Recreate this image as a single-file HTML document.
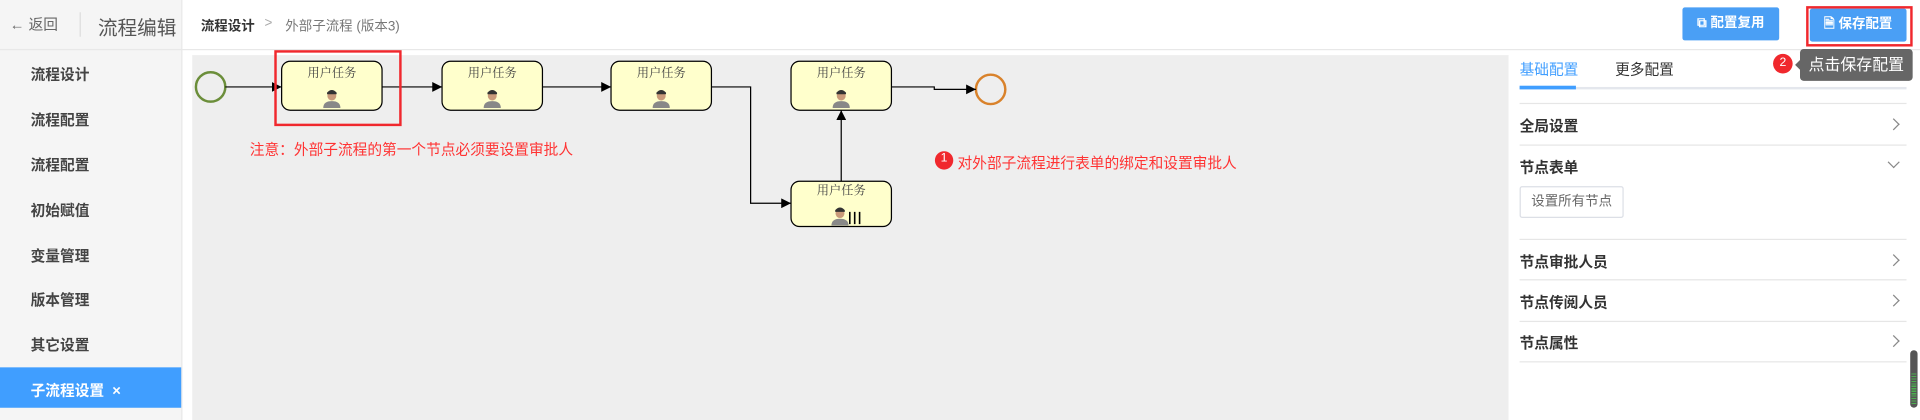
<!DOCTYPE html>
<html><head><meta charset="utf-8"><style>
html,body{margin:0;padding:0;width:1920px;height:420px;overflow:hidden;background:#fff}
#w{position:absolute;left:0;top:0;width:1568px;height:343px;transform:scale(1.22449);transform-origin:0 0;font-family:"Liberation Sans","Noto Sans CJK SC",sans-serif;color:#333}
.a{position:absolute;white-space:nowrap}
.side{position:absolute;left:0;top:0;width:148px;height:343px;background:#f5f5f5;border-right:1px solid #e8e8e8}
.mi{position:absolute;left:25px;font-size:12px;font-weight:bold;color:#444}
.btn{position:absolute;height:27px;background:#4a9ff5;color:#fff;font-size:11px;font-weight:bold;border-radius:2px;text-align:center;line-height:27px}
.row{position:absolute;left:1241px;width:316px;font-size:12px;font-weight:bold;color:#333}
.ln{position:absolute;left:1241px;width:316px;height:1px;background:#e6e6e6}
.chev{position:absolute;left:1543px;width:6px;height:6px;border-right:1px solid #888;border-top:1px solid #888;transform:rotate(45deg)}
</style></head><body><div id="w">
<div class="side"></div>
<div class="a" style="left:0;top:40px;width:1568px;height:1px;background:#e8e8e8"></div>
<div class="a" style="left:149px;top:0;width:1419px;height:40px;background:#fff"></div>
<div class="a" style="left:8px;top:11px;font-size:12px;color:#666">← 返回</div>
<div class="a" style="left:65px;top:10px;width:1px;height:20px;background:#ddd"></div>
<div class="a" style="left:80px;top:9px;font-size:16px;color:#555">流程编辑</div>
<div class="a" style="left:164px;top:13px;font-size:11px;font-weight:bold;color:#333">流程设计</div>
<div class="a" style="left:216px;top:13px;font-size:11px;color:#aaa">&gt;</div>
<div class="a" style="left:233px;top:13px;font-size:11px;color:#777">外部子流程 (版本3)</div>
<div class="btn" style="left:1374px;top:6px;width:79px">⧉ 配置复用</div>
<div class="btn" style="left:1478px;top:7px;width:79px">🗎 保存配置</div>
<div class="a" style="left:1475px;top:5px;width:83px;height:29px;border:2px solid #f0282d"></div>
<div class="a" style="left:1448px;top:44px;width:16px;height:16px;border-radius:50%;background:#f0282d;color:#fff;font-size:10px;text-align:center;line-height:16px">2</div>
<div class="a" style="left:1470px;top:40px;width:92px;height:26px;background:#666;border-radius:3px;color:#fff;font-size:13px;line-height:26px;text-align:center">点击保存配置</div>
<div class="a" style="left:1466px;top:49px;width:0;height:0;border:4px solid transparent;border-right-color:#666;border-left:0"></div>
<div class="mi" style="top:52px">流程设计</div>
<div class="mi" style="top:89px">流程配置</div>
<div class="mi" style="top:126px">流程配置</div>
<div class="mi" style="top:163px">初始赋值</div>
<div class="mi" style="top:200px">变量管理</div>
<div class="mi" style="top:236px">版本管理</div>
<div class="mi" style="top:273px">其它设置</div>
<div class="a" style="left:0;top:300px;width:148px;height:33px;background:#409eff"></div>
<div class="mi" style="top:310px;color:#fff">子流程设置 &nbsp;×</div>
<div class="a" style="left:157px;top:45px;width:1075px;height:298px;background:#eeeeee"></div>
<svg class="a" style="left:0;top:0" width="1568" height="343" font-family="Liberation Serif,Noto Serif CJK SC,serif">
<defs><marker id="ar" markerWidth="8" markerHeight="8" refX="8" refY="4" orient="auto" markerUnits="userSpaceOnUse"><path d="M0,0L8,4L0,8z" fill="#000"/></marker>
<g id="p" transform="scale(1.4)"><circle cx="0" cy="-4" r="2.6" fill="#c99a7a"/><path d="M-2.8,-6 Q0,-9 2.8,-6 L2.8,-5 L-2.8,-5z" fill="#333"/><path d="M-5,3 Q-5,-1 0,-1 Q5,-1 5,3z" fill="#888"/></g></defs>
<circle cx="172" cy="71" r="12" fill="none" stroke="#6b8e3a" stroke-width="2"/>
<circle cx="809" cy="73" r="12" fill="none" stroke="#d9822b" stroke-width="2"/>
<g stroke="#000" stroke-width="1" fill="none">
<path d="M184,71H230" marker-end="url(#ar)"/>
<path d="M312,71H361" marker-end="url(#ar)"/>
<path d="M443,71H499" marker-end="url(#ar)"/>
<path d="M581,71H613V166H646" marker-end="url(#ar)"/>
<path d="M687,148V90" marker-end="url(#ar)"/>
<path d="M728,71H763V73H797" marker-end="url(#ar)"/>
</g>
<g fill="#ffffcc" stroke="#000">
<rect x="230" y="50" width="82" height="40" rx="7"/><rect x="361" y="50" width="82" height="40" rx="7"/><rect x="499" y="50" width="82" height="40" rx="7"/><rect x="646" y="50" width="82" height="40" rx="7"/><rect x="646" y="148" width="82" height="37" rx="7"/>
</g>
<g font-size="10" fill="#444" text-anchor="middle">
<text x="271" y="63">用户任务</text><text x="402" y="63">用户任务</text><text x="540" y="63">用户任务</text><text x="687" y="63">用户任务</text><text x="687" y="159">用户任务</text>
</g>
<use href="#p" x="271" y="84"/><use href="#p" x="402" y="84"/><use href="#p" x="540" y="84"/><use href="#p" x="687" y="84"/><use href="#p" x="686" y="180"/>
<path d="M694,173V183M698,173V183M702,173V183" stroke="#000" stroke-width="1.3"/>
<rect x="225" y="42" width="102" height="60" fill="none" stroke="#f0282d" stroke-width="2"/>
<circle cx="771" cy="131" r="7.5" fill="#f0282d"/>
</svg>
<div class="a" style="left:204px;top:113px;font-size:12px;color:#f33">注意：外部子流程的第一个节点必须要设置审批人</div>
<div class="a" style="left:767px;top:124px;font-size:10px;color:#fff;width:8px;text-align:center">1</div>
<div class="a" style="left:782px;top:124px;font-size:12px;color:#f33">对外部子流程进行表单的绑定和设置审批人</div>
<div class="a" style="left:1241px;top:48px;font-size:12px;color:#409eff">基础配置</div>
<div class="a" style="left:1319px;top:48px;font-size:12px;color:#333">更多配置</div>
<div class="a" style="left:1241px;top:71px;width:316px;height:2px;background:#e4e7ed"></div>
<div class="a" style="left:1241px;top:70px;width:46px;height:3px;background:#409eff"></div>
<div class="ln" style="top:84px"></div>
<div class="row" style="top:94px">全局设置</div><div class="chev" style="top:98px"></div>
<div class="ln" style="top:118px"></div>
<div class="row" style="top:128px">节点表单</div><div class="chev" style="top:129px;transform:rotate(135deg)"></div>
<div class="a" style="left:1241px;top:152px;width:83px;height:24px;border:1px solid #dcdfe6;border-radius:2px;font-size:11px;color:#666;text-align:center;line-height:24px">设置所有节点</div>
<div class="ln" style="top:195px"></div>
<div class="row" style="top:205px">节点审批人员</div><div class="chev" style="top:209px"></div>
<div class="ln" style="top:228px"></div>
<div class="row" style="top:238px">节点传阅人员</div><div class="chev" style="top:242px"></div>
<div class="ln" style="top:262px"></div>
<div class="row" style="top:271px">节点属性</div><div class="chev" style="top:275px"></div>
<div class="ln" style="top:295px"></div>
<div class="a" style="left:1560px;top:286px;width:6px;height:47px;background:#555;border-radius:3px"></div>
<div class="a" style="left:1561px;top:305px;width:4px;height:26px;background:repeating-linear-gradient(#4caf50 0 1px,#555 1px 2px)"></div>
</div></body></html>
